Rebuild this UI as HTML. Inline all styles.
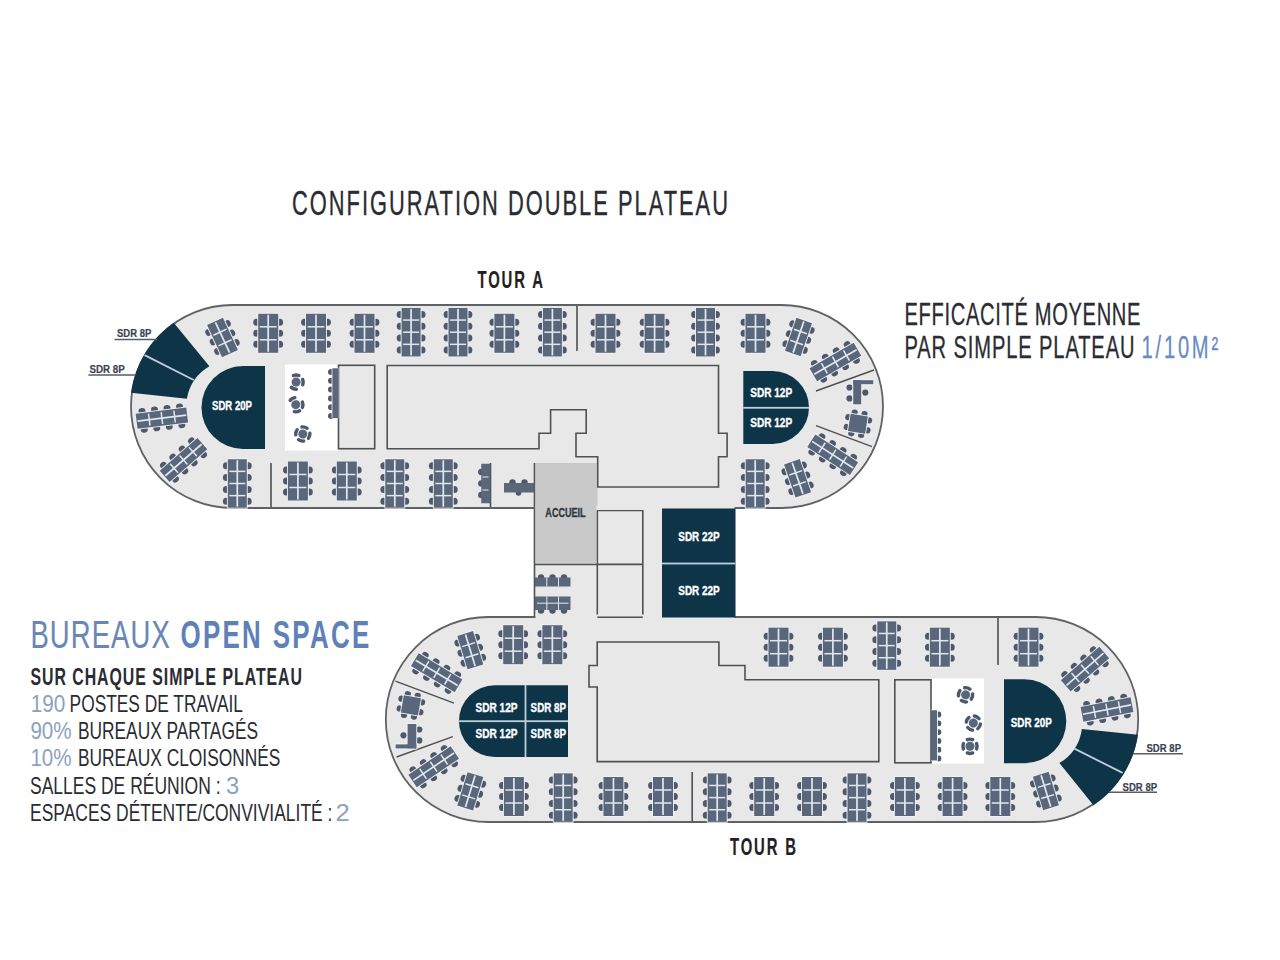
<!DOCTYPE html>
<html><head><meta charset="utf-8"><style>
html,body{margin:0;padding:0;background:#fff;width:1280px;height:960px;overflow:hidden}
svg{display:block}
text{font-family:"Liberation Sans",sans-serif}
</style></head><body>
<svg width="1280" height="960" viewBox="0 0 1280 960">
<rect width="1280" height="960" fill="#ffffff"/>
<path d="M 232.5 305 L 781.5 305 A 101.5 101.5 0 0 1 781.5 508 L 232.5 508 A 101.5 101.5 0 0 1 232.5 305 Z" fill="#e8e8e8"/>
<path d="M 488.3 617 L 1035.7 617 A 102.5 102.5 0 0 1 1035.7 822 L 488.3 822 A 102.5 102.5 0 0 1 488.3 617 Z" fill="#e8e8e8"/>
<rect x="534" y="505" width="201" height="115" fill="#e8e8e8"/>
<rect x="285" y="364.5" width="54" height="86" fill="#ffffff"/>
<rect x="931" y="678.5" width="53" height="85" fill="#ffffff"/>
<rect x="534.5" y="463" width="63" height="101.5" fill="#c9c9c9"/>
<rect x="338.5" y="365.3" width="36.2" height="83.4" fill="none" stroke="#4e5052" stroke-width="1.6"/>
<path d="M 387.2 365.5 L 718.5 365.5 L 718.5 433.2 L 727.1 433.2 L 727.1 456.8 L 718.5 456.8 L 718.5 487 L 597.7 487 L 597.7 456.8 L 576 456.8 L 576 433.2 L 586.2 433.2 L 586.2 409.7 L 550.6 409.7 L 550.6 433.2 L 539 433.2 L 539 448.7 L 387.2 448.7 Z" fill="none" stroke="#4e5052" stroke-width="1.6"/>
<path d="M 534.5 463 L 534.5 617.3 M 534.5 564.4 L 642.8 564.4 M 597.3 510.4 L 597.3 617.3 M 597.3 510.4 L 642.8 510.4 L 642.8 617.3 L 597.3 617.3" fill="none" stroke="#4e5052" stroke-width="1.6"/>
<rect x="662" y="509" width="73.3" height="108.3" fill="#0e3448"/>
<rect x="662" y="562.6" width="73.3" height="1.8" fill="#bccfdc"/>
<path d="M 597.2 642 L 718.9 642 L 718.9 665.5 L 745 665.5 L 745 679.8 L 878.8 679.8 L 878.8 761.6 L 597.2 761.6 L 597.2 687 L 589 687 L 589 665.5 L 597.2 665.5 Z" fill="none" stroke="#4e5052" stroke-width="1.6"/>
<rect x="894.8" y="679.8" width="36.2" height="83" fill="none" stroke="#4e5052" stroke-width="1.6"/>
<path d="M 577 305 L 577 351 M 271 463 L 271 508 M 490.5 463 L 490.5 508 M 998 617 L 998 665 M 692.2 772 L 692.2 822" stroke="#4e5052" stroke-width="1.6"/>
<path d="M 816 391 L 874 370 M 816 425.6 L 872 446.7 M 395.4 681.2 L 454 703.2 M 396.6 757 L 452.8 736.7" stroke="#4e5052" stroke-width="1.4"/>
<path d="M 265 366 L 243 366 A 41.5 41.5 0 0 0 243 449 L 265 449 Z" fill="#0e3448"/>
<path d="M 743.3 371 L 772.5 371 A 36.5 36.5 0 0 1 772.5 444 L 743.3 444 Z" fill="#0e3448"/>
<rect x="743.3" y="406.9" width="66" height="1.8" fill="#bccfdc"/>
<path d="M 568 685.2 L 494.8 685.2 A 35.9 35.9 0 0 0 494.8 757 L 568 757 Z" fill="#0e3448"/>
<rect x="458" y="720.3" width="110" height="1.8" fill="#bccfdc"/>
<rect x="524.6" y="685" width="1.8" height="72" fill="#bccfdc"/>
<path d="M 1004 679.3 L 1024.3 679.3 A 42 42 0 0 1 1024.3 763.3 L 1004 763.3 Z" fill="#0e3448"/>
<path d="M 232.5 305 L 781.5 305 A 101.5 101.5 0 0 1 781.5 508 L 232.5 508 A 101.5 101.5 0 0 1 232.5 305 Z" fill="none" stroke="#5f6264" stroke-width="1.8"/>
<path d="M 488.3 617 L 1035.7 617 A 102.5 102.5 0 0 1 1035.7 822 L 488.3 822 A 102.5 102.5 0 0 1 488.3 617 Z" fill="none" stroke="#5f6264" stroke-width="1.8"/>
<rect x="535.5" y="506" width="199" height="4" fill="#e8e8e8"/>
<rect x="535.5" y="614.5" width="199" height="4" fill="#e8e8e8"/>
<path d="M 597.3 617.3 L 642.8 617.3" stroke="#4e5052" stroke-width="1.6"/>
<rect x="662" y="508.5" width="73.3" height="109" fill="#0e3448"/>
<rect x="662" y="562.6" width="73.3" height="1.8" fill="#bccfdc"/>
<rect x="535.4" y="463.8" width="61.1" height="99.8" fill="#c9c9c9"/>
<path d="M 173.72 322.65 A 102.4 102.4 0 0 0 131.02 392.8 L 186.9 398.75 A 47 47 0 0 1 209.4 366.25 Z" fill="#0e3448"/>
<path d="M 144.6 355.1 L 193.75 380" stroke="#bccfdc" stroke-width="1.8"/>
<path d="M 1137.97 734.76 A 103.4 103.4 0 0 1 1093.45 805.27 L 1059.4 763.1 A 48 48 0 0 0 1081.9 728.9 Z" fill="#0e3448"/>
<path d="M 1074.4 748.6 L 1122.6 772.9" stroke="#bccfdc" stroke-width="1.8"/>
<g transform="translate(268.2 333.3) rotate(0)"><ellipse cx="-11.7" cy="-11" rx="3.2" ry="3.5" fill="#4d596b"/><ellipse cx="11.7" cy="-11" rx="3.2" ry="3.5" fill="#4d596b"/><ellipse cx="-11.7" cy="0" rx="3.2" ry="3.5" fill="#4d596b"/><ellipse cx="11.7" cy="0" rx="3.2" ry="3.5" fill="#4d596b"/><ellipse cx="-11.7" cy="11" rx="3.2" ry="3.5" fill="#4d596b"/><ellipse cx="11.7" cy="11" rx="3.2" ry="3.5" fill="#4d596b"/><rect x="-10.9" y="-20.4" width="21.8" height="40.8" fill="#eef1f6"/><rect x="-10" y="-19.5" width="20" height="39" fill="#5a677b"/><rect x="-0.85" y="-18.5" width="1.7" height="37" fill="#dfe8f1"/><rect x="-8.5" y="-7.25" width="17" height="1.5" fill="#dfe8f1"/><rect x="-8.5" y="5.75" width="17" height="1.5" fill="#dfe8f1"/></g>
<g transform="translate(316 333.3) rotate(0)"><ellipse cx="-11.7" cy="-11" rx="3.2" ry="3.5" fill="#4d596b"/><ellipse cx="11.7" cy="-11" rx="3.2" ry="3.5" fill="#4d596b"/><ellipse cx="-11.7" cy="0" rx="3.2" ry="3.5" fill="#4d596b"/><ellipse cx="11.7" cy="0" rx="3.2" ry="3.5" fill="#4d596b"/><ellipse cx="-11.7" cy="11" rx="3.2" ry="3.5" fill="#4d596b"/><ellipse cx="11.7" cy="11" rx="3.2" ry="3.5" fill="#4d596b"/><rect x="-10.9" y="-20.4" width="21.8" height="40.8" fill="#eef1f6"/><rect x="-10" y="-19.5" width="20" height="39" fill="#5a677b"/><rect x="-0.85" y="-18.5" width="1.7" height="37" fill="#dfe8f1"/><rect x="-8.5" y="-7.25" width="17" height="1.5" fill="#dfe8f1"/><rect x="-8.5" y="5.75" width="17" height="1.5" fill="#dfe8f1"/></g>
<g transform="translate(364.5 333.3) rotate(0)"><ellipse cx="-11.7" cy="-11" rx="3.2" ry="3.5" fill="#4d596b"/><ellipse cx="11.7" cy="-11" rx="3.2" ry="3.5" fill="#4d596b"/><ellipse cx="-11.7" cy="0" rx="3.2" ry="3.5" fill="#4d596b"/><ellipse cx="11.7" cy="0" rx="3.2" ry="3.5" fill="#4d596b"/><ellipse cx="-11.7" cy="11" rx="3.2" ry="3.5" fill="#4d596b"/><ellipse cx="11.7" cy="11" rx="3.2" ry="3.5" fill="#4d596b"/><rect x="-10.9" y="-20.4" width="21.8" height="40.8" fill="#eef1f6"/><rect x="-10" y="-19.5" width="20" height="39" fill="#5a677b"/><rect x="-0.85" y="-18.5" width="1.7" height="37" fill="#dfe8f1"/><rect x="-8.5" y="-7.25" width="17" height="1.5" fill="#dfe8f1"/><rect x="-8.5" y="5.75" width="17" height="1.5" fill="#dfe8f1"/></g>
<g transform="translate(411.1 332.2) rotate(0)"><ellipse cx="-11.2" cy="-17.7" rx="3.2" ry="3.5" fill="#4d596b"/><ellipse cx="11.2" cy="-17.7" rx="3.2" ry="3.5" fill="#4d596b"/><ellipse cx="-11.2" cy="-5.9" rx="3.2" ry="3.5" fill="#4d596b"/><ellipse cx="11.2" cy="-5.9" rx="3.2" ry="3.5" fill="#4d596b"/><ellipse cx="-11.2" cy="5.9" rx="3.2" ry="3.5" fill="#4d596b"/><ellipse cx="11.2" cy="5.9" rx="3.2" ry="3.5" fill="#4d596b"/><ellipse cx="-11.2" cy="17.7" rx="3.2" ry="3.5" fill="#4d596b"/><ellipse cx="11.2" cy="17.7" rx="3.2" ry="3.5" fill="#4d596b"/><rect x="-10.4" y="-25.15" width="20.8" height="50.3" fill="#eef1f6"/><rect x="-9.5" y="-24.25" width="19" height="48.5" fill="#5a677b"/><rect x="-0.85" y="-23.25" width="1.7" height="46.5" fill="#dfe8f1"/><rect x="-8" y="-12.88" width="16" height="1.5" fill="#dfe8f1"/><rect x="-8" y="-0.75" width="16" height="1.5" fill="#dfe8f1"/><rect x="-8" y="11.38" width="16" height="1.5" fill="#dfe8f1"/></g>
<g transform="translate(458 332.2) rotate(0)"><ellipse cx="-11.2" cy="-17.7" rx="3.2" ry="3.5" fill="#4d596b"/><ellipse cx="11.2" cy="-17.7" rx="3.2" ry="3.5" fill="#4d596b"/><ellipse cx="-11.2" cy="-5.9" rx="3.2" ry="3.5" fill="#4d596b"/><ellipse cx="11.2" cy="-5.9" rx="3.2" ry="3.5" fill="#4d596b"/><ellipse cx="-11.2" cy="5.9" rx="3.2" ry="3.5" fill="#4d596b"/><ellipse cx="11.2" cy="5.9" rx="3.2" ry="3.5" fill="#4d596b"/><ellipse cx="-11.2" cy="17.7" rx="3.2" ry="3.5" fill="#4d596b"/><ellipse cx="11.2" cy="17.7" rx="3.2" ry="3.5" fill="#4d596b"/><rect x="-10.4" y="-25.15" width="20.8" height="50.3" fill="#eef1f6"/><rect x="-9.5" y="-24.25" width="19" height="48.5" fill="#5a677b"/><rect x="-0.85" y="-23.25" width="1.7" height="46.5" fill="#dfe8f1"/><rect x="-8" y="-12.88" width="16" height="1.5" fill="#dfe8f1"/><rect x="-8" y="-0.75" width="16" height="1.5" fill="#dfe8f1"/><rect x="-8" y="11.38" width="16" height="1.5" fill="#dfe8f1"/></g>
<g transform="translate(504.4 333.3) rotate(0)"><ellipse cx="-11.7" cy="-11" rx="3.2" ry="3.5" fill="#4d596b"/><ellipse cx="11.7" cy="-11" rx="3.2" ry="3.5" fill="#4d596b"/><ellipse cx="-11.7" cy="0" rx="3.2" ry="3.5" fill="#4d596b"/><ellipse cx="11.7" cy="0" rx="3.2" ry="3.5" fill="#4d596b"/><ellipse cx="-11.7" cy="11" rx="3.2" ry="3.5" fill="#4d596b"/><ellipse cx="11.7" cy="11" rx="3.2" ry="3.5" fill="#4d596b"/><rect x="-10.9" y="-20.4" width="21.8" height="40.8" fill="#eef1f6"/><rect x="-10" y="-19.5" width="20" height="39" fill="#5a677b"/><rect x="-0.85" y="-18.5" width="1.7" height="37" fill="#dfe8f1"/><rect x="-8.5" y="-7.25" width="17" height="1.5" fill="#dfe8f1"/><rect x="-8.5" y="5.75" width="17" height="1.5" fill="#dfe8f1"/></g>
<g transform="translate(552.4 332.2) rotate(0)"><ellipse cx="-11.2" cy="-17.7" rx="3.2" ry="3.5" fill="#4d596b"/><ellipse cx="11.2" cy="-17.7" rx="3.2" ry="3.5" fill="#4d596b"/><ellipse cx="-11.2" cy="-5.9" rx="3.2" ry="3.5" fill="#4d596b"/><ellipse cx="11.2" cy="-5.9" rx="3.2" ry="3.5" fill="#4d596b"/><ellipse cx="-11.2" cy="5.9" rx="3.2" ry="3.5" fill="#4d596b"/><ellipse cx="11.2" cy="5.9" rx="3.2" ry="3.5" fill="#4d596b"/><ellipse cx="-11.2" cy="17.7" rx="3.2" ry="3.5" fill="#4d596b"/><ellipse cx="11.2" cy="17.7" rx="3.2" ry="3.5" fill="#4d596b"/><rect x="-10.4" y="-25.15" width="20.8" height="50.3" fill="#eef1f6"/><rect x="-9.5" y="-24.25" width="19" height="48.5" fill="#5a677b"/><rect x="-0.85" y="-23.25" width="1.7" height="46.5" fill="#dfe8f1"/><rect x="-8" y="-12.88" width="16" height="1.5" fill="#dfe8f1"/><rect x="-8" y="-0.75" width="16" height="1.5" fill="#dfe8f1"/><rect x="-8" y="11.38" width="16" height="1.5" fill="#dfe8f1"/></g>
<g transform="translate(605.5 333.3) rotate(0)"><ellipse cx="-11.7" cy="-11" rx="3.2" ry="3.5" fill="#4d596b"/><ellipse cx="11.7" cy="-11" rx="3.2" ry="3.5" fill="#4d596b"/><ellipse cx="-11.7" cy="0" rx="3.2" ry="3.5" fill="#4d596b"/><ellipse cx="11.7" cy="0" rx="3.2" ry="3.5" fill="#4d596b"/><ellipse cx="-11.7" cy="11" rx="3.2" ry="3.5" fill="#4d596b"/><ellipse cx="11.7" cy="11" rx="3.2" ry="3.5" fill="#4d596b"/><rect x="-10.9" y="-20.4" width="21.8" height="40.8" fill="#eef1f6"/><rect x="-10" y="-19.5" width="20" height="39" fill="#5a677b"/><rect x="-0.85" y="-18.5" width="1.7" height="37" fill="#dfe8f1"/><rect x="-8.5" y="-7.25" width="17" height="1.5" fill="#dfe8f1"/><rect x="-8.5" y="5.75" width="17" height="1.5" fill="#dfe8f1"/></g>
<g transform="translate(654.6 333.3) rotate(0)"><ellipse cx="-11.7" cy="-11" rx="3.2" ry="3.5" fill="#4d596b"/><ellipse cx="11.7" cy="-11" rx="3.2" ry="3.5" fill="#4d596b"/><ellipse cx="-11.7" cy="0" rx="3.2" ry="3.5" fill="#4d596b"/><ellipse cx="11.7" cy="0" rx="3.2" ry="3.5" fill="#4d596b"/><ellipse cx="-11.7" cy="11" rx="3.2" ry="3.5" fill="#4d596b"/><ellipse cx="11.7" cy="11" rx="3.2" ry="3.5" fill="#4d596b"/><rect x="-10.9" y="-20.4" width="21.8" height="40.8" fill="#eef1f6"/><rect x="-10" y="-19.5" width="20" height="39" fill="#5a677b"/><rect x="-0.85" y="-18.5" width="1.7" height="37" fill="#dfe8f1"/><rect x="-8.5" y="-7.25" width="17" height="1.5" fill="#dfe8f1"/><rect x="-8.5" y="5.75" width="17" height="1.5" fill="#dfe8f1"/></g>
<g transform="translate(705.5 332.2) rotate(0)"><ellipse cx="-11.2" cy="-17.7" rx="3.2" ry="3.5" fill="#4d596b"/><ellipse cx="11.2" cy="-17.7" rx="3.2" ry="3.5" fill="#4d596b"/><ellipse cx="-11.2" cy="-5.9" rx="3.2" ry="3.5" fill="#4d596b"/><ellipse cx="11.2" cy="-5.9" rx="3.2" ry="3.5" fill="#4d596b"/><ellipse cx="-11.2" cy="5.9" rx="3.2" ry="3.5" fill="#4d596b"/><ellipse cx="11.2" cy="5.9" rx="3.2" ry="3.5" fill="#4d596b"/><ellipse cx="-11.2" cy="17.7" rx="3.2" ry="3.5" fill="#4d596b"/><ellipse cx="11.2" cy="17.7" rx="3.2" ry="3.5" fill="#4d596b"/><rect x="-10.4" y="-25.15" width="20.8" height="50.3" fill="#eef1f6"/><rect x="-9.5" y="-24.25" width="19" height="48.5" fill="#5a677b"/><rect x="-0.85" y="-23.25" width="1.7" height="46.5" fill="#dfe8f1"/><rect x="-8" y="-12.88" width="16" height="1.5" fill="#dfe8f1"/><rect x="-8" y="-0.75" width="16" height="1.5" fill="#dfe8f1"/><rect x="-8" y="11.38" width="16" height="1.5" fill="#dfe8f1"/></g>
<g transform="translate(755.5 333.3) rotate(0)"><ellipse cx="-11.7" cy="-11" rx="3.2" ry="3.5" fill="#4d596b"/><ellipse cx="11.7" cy="-11" rx="3.2" ry="3.5" fill="#4d596b"/><ellipse cx="-11.7" cy="0" rx="3.2" ry="3.5" fill="#4d596b"/><ellipse cx="11.7" cy="0" rx="3.2" ry="3.5" fill="#4d596b"/><ellipse cx="-11.7" cy="11" rx="3.2" ry="3.5" fill="#4d596b"/><ellipse cx="11.7" cy="11" rx="3.2" ry="3.5" fill="#4d596b"/><rect x="-10.9" y="-20.4" width="21.8" height="40.8" fill="#eef1f6"/><rect x="-10" y="-19.5" width="20" height="39" fill="#5a677b"/><rect x="-0.85" y="-18.5" width="1.7" height="37" fill="#dfe8f1"/><rect x="-8.5" y="-7.25" width="17" height="1.5" fill="#dfe8f1"/><rect x="-8.5" y="5.75" width="17" height="1.5" fill="#dfe8f1"/></g>
<g transform="translate(798.5 337) rotate(19)"><ellipse cx="-9.95" cy="-10.5" rx="3.2" ry="3.5" fill="#4d596b"/><ellipse cx="9.95" cy="-10.5" rx="3.2" ry="3.5" fill="#4d596b"/><ellipse cx="-9.95" cy="0" rx="3.2" ry="3.5" fill="#4d596b"/><ellipse cx="9.95" cy="0" rx="3.2" ry="3.5" fill="#4d596b"/><ellipse cx="-9.95" cy="10.5" rx="3.2" ry="3.5" fill="#4d596b"/><ellipse cx="9.95" cy="10.5" rx="3.2" ry="3.5" fill="#4d596b"/><rect x="-9.15" y="-18.4" width="18.3" height="36.8" fill="#eef1f6"/><rect x="-8.25" y="-17.5" width="16.5" height="35" fill="#5a677b"/><rect x="-0.85" y="-16.5" width="1.7" height="33" fill="#dfe8f1"/><rect x="-6.75" y="-6.58" width="13.5" height="1.5" fill="#dfe8f1"/><rect x="-6.75" y="5.08" width="13.5" height="1.5" fill="#dfe8f1"/></g>
<g transform="translate(835.4 361.9) rotate(60)"><ellipse cx="-9.2" cy="-18.9" rx="3.2" ry="3.5" fill="#4d596b"/><ellipse cx="9.2" cy="-18.9" rx="3.2" ry="3.5" fill="#4d596b"/><ellipse cx="-9.2" cy="-6.3" rx="3.2" ry="3.5" fill="#4d596b"/><ellipse cx="9.2" cy="-6.3" rx="3.2" ry="3.5" fill="#4d596b"/><ellipse cx="-9.2" cy="6.3" rx="3.2" ry="3.5" fill="#4d596b"/><ellipse cx="9.2" cy="6.3" rx="3.2" ry="3.5" fill="#4d596b"/><ellipse cx="-9.2" cy="18.9" rx="3.2" ry="3.5" fill="#4d596b"/><ellipse cx="9.2" cy="18.9" rx="3.2" ry="3.5" fill="#4d596b"/><rect x="-8.4" y="-26.4" width="16.8" height="52.8" fill="#eef1f6"/><rect x="-7.5" y="-25.5" width="15" height="51" fill="#5a677b"/><rect x="-0.85" y="-24.5" width="1.7" height="49" fill="#dfe8f1"/><rect x="-6" y="-13.5" width="12" height="1.5" fill="#dfe8f1"/><rect x="-6" y="-0.75" width="12" height="1.5" fill="#dfe8f1"/><rect x="-6" y="12" width="12" height="1.5" fill="#dfe8f1"/></g>
<g transform="translate(237.3 483.5) rotate(0)"><ellipse cx="-11.2" cy="-17.7" rx="3.2" ry="3.5" fill="#4d596b"/><ellipse cx="11.2" cy="-17.7" rx="3.2" ry="3.5" fill="#4d596b"/><ellipse cx="-11.2" cy="-5.9" rx="3.2" ry="3.5" fill="#4d596b"/><ellipse cx="11.2" cy="-5.9" rx="3.2" ry="3.5" fill="#4d596b"/><ellipse cx="-11.2" cy="5.9" rx="3.2" ry="3.5" fill="#4d596b"/><ellipse cx="11.2" cy="5.9" rx="3.2" ry="3.5" fill="#4d596b"/><ellipse cx="-11.2" cy="17.7" rx="3.2" ry="3.5" fill="#4d596b"/><ellipse cx="11.2" cy="17.7" rx="3.2" ry="3.5" fill="#4d596b"/><rect x="-10.4" y="-25.15" width="20.8" height="50.3" fill="#eef1f6"/><rect x="-9.5" y="-24.25" width="19" height="48.5" fill="#5a677b"/><rect x="-0.85" y="-23.25" width="1.7" height="46.5" fill="#dfe8f1"/><rect x="-8" y="-12.88" width="16" height="1.5" fill="#dfe8f1"/><rect x="-8" y="-0.75" width="16" height="1.5" fill="#dfe8f1"/><rect x="-8" y="11.38" width="16" height="1.5" fill="#dfe8f1"/></g>
<g transform="translate(297.9 481) rotate(0)"><ellipse cx="-11.7" cy="-11" rx="3.2" ry="3.5" fill="#4d596b"/><ellipse cx="11.7" cy="-11" rx="3.2" ry="3.5" fill="#4d596b"/><ellipse cx="-11.7" cy="0" rx="3.2" ry="3.5" fill="#4d596b"/><ellipse cx="11.7" cy="0" rx="3.2" ry="3.5" fill="#4d596b"/><ellipse cx="-11.7" cy="11" rx="3.2" ry="3.5" fill="#4d596b"/><ellipse cx="11.7" cy="11" rx="3.2" ry="3.5" fill="#4d596b"/><rect x="-10.9" y="-20.4" width="21.8" height="40.8" fill="#eef1f6"/><rect x="-10" y="-19.5" width="20" height="39" fill="#5a677b"/><rect x="-0.85" y="-18.5" width="1.7" height="37" fill="#dfe8f1"/><rect x="-8.5" y="-7.25" width="17" height="1.5" fill="#dfe8f1"/><rect x="-8.5" y="5.75" width="17" height="1.5" fill="#dfe8f1"/></g>
<g transform="translate(346.8 481) rotate(0)"><ellipse cx="-11.7" cy="-11" rx="3.2" ry="3.5" fill="#4d596b"/><ellipse cx="11.7" cy="-11" rx="3.2" ry="3.5" fill="#4d596b"/><ellipse cx="-11.7" cy="0" rx="3.2" ry="3.5" fill="#4d596b"/><ellipse cx="11.7" cy="0" rx="3.2" ry="3.5" fill="#4d596b"/><ellipse cx="-11.7" cy="11" rx="3.2" ry="3.5" fill="#4d596b"/><ellipse cx="11.7" cy="11" rx="3.2" ry="3.5" fill="#4d596b"/><rect x="-10.9" y="-20.4" width="21.8" height="40.8" fill="#eef1f6"/><rect x="-10" y="-19.5" width="20" height="39" fill="#5a677b"/><rect x="-0.85" y="-18.5" width="1.7" height="37" fill="#dfe8f1"/><rect x="-8.5" y="-7.25" width="17" height="1.5" fill="#dfe8f1"/><rect x="-8.5" y="5.75" width="17" height="1.5" fill="#dfe8f1"/></g>
<g transform="translate(394.8 483.5) rotate(0)"><ellipse cx="-11.2" cy="-17.7" rx="3.2" ry="3.5" fill="#4d596b"/><ellipse cx="11.2" cy="-17.7" rx="3.2" ry="3.5" fill="#4d596b"/><ellipse cx="-11.2" cy="-5.9" rx="3.2" ry="3.5" fill="#4d596b"/><ellipse cx="11.2" cy="-5.9" rx="3.2" ry="3.5" fill="#4d596b"/><ellipse cx="-11.2" cy="5.9" rx="3.2" ry="3.5" fill="#4d596b"/><ellipse cx="11.2" cy="5.9" rx="3.2" ry="3.5" fill="#4d596b"/><ellipse cx="-11.2" cy="17.7" rx="3.2" ry="3.5" fill="#4d596b"/><ellipse cx="11.2" cy="17.7" rx="3.2" ry="3.5" fill="#4d596b"/><rect x="-10.4" y="-25.15" width="20.8" height="50.3" fill="#eef1f6"/><rect x="-9.5" y="-24.25" width="19" height="48.5" fill="#5a677b"/><rect x="-0.85" y="-23.25" width="1.7" height="46.5" fill="#dfe8f1"/><rect x="-8" y="-12.88" width="16" height="1.5" fill="#dfe8f1"/><rect x="-8" y="-0.75" width="16" height="1.5" fill="#dfe8f1"/><rect x="-8" y="11.38" width="16" height="1.5" fill="#dfe8f1"/></g>
<g transform="translate(443.3 483.5) rotate(0)"><ellipse cx="-11.2" cy="-17.7" rx="3.2" ry="3.5" fill="#4d596b"/><ellipse cx="11.2" cy="-17.7" rx="3.2" ry="3.5" fill="#4d596b"/><ellipse cx="-11.2" cy="-5.9" rx="3.2" ry="3.5" fill="#4d596b"/><ellipse cx="11.2" cy="-5.9" rx="3.2" ry="3.5" fill="#4d596b"/><ellipse cx="-11.2" cy="5.9" rx="3.2" ry="3.5" fill="#4d596b"/><ellipse cx="11.2" cy="5.9" rx="3.2" ry="3.5" fill="#4d596b"/><ellipse cx="-11.2" cy="17.7" rx="3.2" ry="3.5" fill="#4d596b"/><ellipse cx="11.2" cy="17.7" rx="3.2" ry="3.5" fill="#4d596b"/><rect x="-10.4" y="-25.15" width="20.8" height="50.3" fill="#eef1f6"/><rect x="-9.5" y="-24.25" width="19" height="48.5" fill="#5a677b"/><rect x="-0.85" y="-23.25" width="1.7" height="46.5" fill="#dfe8f1"/><rect x="-8" y="-12.88" width="16" height="1.5" fill="#dfe8f1"/><rect x="-8" y="-0.75" width="16" height="1.5" fill="#dfe8f1"/><rect x="-8" y="11.38" width="16" height="1.5" fill="#dfe8f1"/></g>
<g transform="translate(755.2 483.5) rotate(0)"><ellipse cx="-11.2" cy="-17.7" rx="3.2" ry="3.5" fill="#4d596b"/><ellipse cx="11.2" cy="-17.7" rx="3.2" ry="3.5" fill="#4d596b"/><ellipse cx="-11.2" cy="-5.9" rx="3.2" ry="3.5" fill="#4d596b"/><ellipse cx="11.2" cy="-5.9" rx="3.2" ry="3.5" fill="#4d596b"/><ellipse cx="-11.2" cy="5.9" rx="3.2" ry="3.5" fill="#4d596b"/><ellipse cx="11.2" cy="5.9" rx="3.2" ry="3.5" fill="#4d596b"/><ellipse cx="-11.2" cy="17.7" rx="3.2" ry="3.5" fill="#4d596b"/><ellipse cx="11.2" cy="17.7" rx="3.2" ry="3.5" fill="#4d596b"/><rect x="-10.4" y="-25.15" width="20.8" height="50.3" fill="#eef1f6"/><rect x="-9.5" y="-24.25" width="19" height="48.5" fill="#5a677b"/><rect x="-0.85" y="-23.25" width="1.7" height="46.5" fill="#dfe8f1"/><rect x="-8" y="-12.88" width="16" height="1.5" fill="#dfe8f1"/><rect x="-8" y="-0.75" width="16" height="1.5" fill="#dfe8f1"/><rect x="-8" y="11.38" width="16" height="1.5" fill="#dfe8f1"/></g>
<g transform="translate(797.6 478.3) rotate(-19)"><ellipse cx="-9.95" cy="-10.5" rx="3.2" ry="3.5" fill="#4d596b"/><ellipse cx="9.95" cy="-10.5" rx="3.2" ry="3.5" fill="#4d596b"/><ellipse cx="-9.95" cy="0" rx="3.2" ry="3.5" fill="#4d596b"/><ellipse cx="9.95" cy="0" rx="3.2" ry="3.5" fill="#4d596b"/><ellipse cx="-9.95" cy="10.5" rx="3.2" ry="3.5" fill="#4d596b"/><ellipse cx="9.95" cy="10.5" rx="3.2" ry="3.5" fill="#4d596b"/><rect x="-9.15" y="-18.4" width="18.3" height="36.8" fill="#eef1f6"/><rect x="-8.25" y="-17.5" width="16.5" height="35" fill="#5a677b"/><rect x="-0.85" y="-16.5" width="1.7" height="33" fill="#dfe8f1"/><rect x="-6.75" y="-6.58" width="13.5" height="1.5" fill="#dfe8f1"/><rect x="-6.75" y="5.08" width="13.5" height="1.5" fill="#dfe8f1"/></g>
<g transform="translate(832.7 454.7) rotate(-57)"><ellipse cx="-9.2" cy="-18.9" rx="3.2" ry="3.5" fill="#4d596b"/><ellipse cx="9.2" cy="-18.9" rx="3.2" ry="3.5" fill="#4d596b"/><ellipse cx="-9.2" cy="-6.3" rx="3.2" ry="3.5" fill="#4d596b"/><ellipse cx="9.2" cy="-6.3" rx="3.2" ry="3.5" fill="#4d596b"/><ellipse cx="-9.2" cy="6.3" rx="3.2" ry="3.5" fill="#4d596b"/><ellipse cx="9.2" cy="6.3" rx="3.2" ry="3.5" fill="#4d596b"/><ellipse cx="-9.2" cy="18.9" rx="3.2" ry="3.5" fill="#4d596b"/><ellipse cx="9.2" cy="18.9" rx="3.2" ry="3.5" fill="#4d596b"/><rect x="-8.4" y="-26.4" width="16.8" height="52.8" fill="#eef1f6"/><rect x="-7.5" y="-25.5" width="15" height="51" fill="#5a677b"/><rect x="-0.85" y="-24.5" width="1.7" height="49" fill="#dfe8f1"/><rect x="-6" y="-13.5" width="12" height="1.5" fill="#dfe8f1"/><rect x="-6" y="-0.75" width="12" height="1.5" fill="#dfe8f1"/><rect x="-6" y="12" width="12" height="1.5" fill="#dfe8f1"/></g>
<g transform="translate(222.5 337.5) rotate(-25)"><ellipse cx="-10.45" cy="-10.5" rx="3.2" ry="3.5" fill="#4d596b"/><ellipse cx="10.45" cy="-10.5" rx="3.2" ry="3.5" fill="#4d596b"/><ellipse cx="-10.45" cy="0" rx="3.2" ry="3.5" fill="#4d596b"/><ellipse cx="10.45" cy="0" rx="3.2" ry="3.5" fill="#4d596b"/><ellipse cx="-10.45" cy="10.5" rx="3.2" ry="3.5" fill="#4d596b"/><ellipse cx="10.45" cy="10.5" rx="3.2" ry="3.5" fill="#4d596b"/><rect x="-9.65" y="-18.65" width="19.3" height="37.3" fill="#eef1f6"/><rect x="-8.75" y="-17.75" width="17.5" height="35.5" fill="#5a677b"/><rect x="-0.85" y="-16.75" width="1.7" height="33.5" fill="#dfe8f1"/><rect x="-7.25" y="-6.67" width="14.5" height="1.5" fill="#dfe8f1"/><rect x="-7.25" y="5.17" width="14.5" height="1.5" fill="#dfe8f1"/></g>
<g transform="translate(161.9 418.1) rotate(83)"><ellipse cx="-9.2" cy="-18.9" rx="3.2" ry="3.5" fill="#4d596b"/><ellipse cx="9.2" cy="-18.9" rx="3.2" ry="3.5" fill="#4d596b"/><ellipse cx="-9.2" cy="-6.3" rx="3.2" ry="3.5" fill="#4d596b"/><ellipse cx="9.2" cy="-6.3" rx="3.2" ry="3.5" fill="#4d596b"/><ellipse cx="-9.2" cy="6.3" rx="3.2" ry="3.5" fill="#4d596b"/><ellipse cx="9.2" cy="6.3" rx="3.2" ry="3.5" fill="#4d596b"/><ellipse cx="-9.2" cy="18.9" rx="3.2" ry="3.5" fill="#4d596b"/><ellipse cx="9.2" cy="18.9" rx="3.2" ry="3.5" fill="#4d596b"/><rect x="-8.4" y="-26.4" width="16.8" height="52.8" fill="#eef1f6"/><rect x="-7.5" y="-25.5" width="15" height="51" fill="#5a677b"/><rect x="-0.85" y="-24.5" width="1.7" height="49" fill="#dfe8f1"/><rect x="-6" y="-13.5" width="12" height="1.5" fill="#dfe8f1"/><rect x="-6" y="-0.75" width="12" height="1.5" fill="#dfe8f1"/><rect x="-6" y="12" width="12" height="1.5" fill="#dfe8f1"/></g>
<g transform="translate(183.5 460) rotate(49)"><ellipse cx="-9.2" cy="-18.6" rx="3.2" ry="3.5" fill="#4d596b"/><ellipse cx="9.2" cy="-18.6" rx="3.2" ry="3.5" fill="#4d596b"/><ellipse cx="-9.2" cy="-6.2" rx="3.2" ry="3.5" fill="#4d596b"/><ellipse cx="9.2" cy="-6.2" rx="3.2" ry="3.5" fill="#4d596b"/><ellipse cx="-9.2" cy="6.2" rx="3.2" ry="3.5" fill="#4d596b"/><ellipse cx="9.2" cy="6.2" rx="3.2" ry="3.5" fill="#4d596b"/><ellipse cx="-9.2" cy="18.6" rx="3.2" ry="3.5" fill="#4d596b"/><ellipse cx="9.2" cy="18.6" rx="3.2" ry="3.5" fill="#4d596b"/><rect x="-8.4" y="-25.9" width="16.8" height="51.8" fill="#eef1f6"/><rect x="-7.5" y="-25" width="15" height="50" fill="#5a677b"/><rect x="-0.85" y="-24" width="1.7" height="48" fill="#dfe8f1"/><rect x="-6" y="-13.25" width="12" height="1.5" fill="#dfe8f1"/><rect x="-6" y="-0.75" width="12" height="1.5" fill="#dfe8f1"/><rect x="-6" y="11.75" width="12" height="1.5" fill="#dfe8f1"/></g>
<g transform="translate(513.2 644.7) rotate(0)"><ellipse cx="-11.7" cy="-11" rx="3.2" ry="3.5" fill="#4d596b"/><ellipse cx="11.7" cy="-11" rx="3.2" ry="3.5" fill="#4d596b"/><ellipse cx="-11.7" cy="0" rx="3.2" ry="3.5" fill="#4d596b"/><ellipse cx="11.7" cy="0" rx="3.2" ry="3.5" fill="#4d596b"/><ellipse cx="-11.7" cy="11" rx="3.2" ry="3.5" fill="#4d596b"/><ellipse cx="11.7" cy="11" rx="3.2" ry="3.5" fill="#4d596b"/><rect x="-10.9" y="-20.4" width="21.8" height="40.8" fill="#eef1f6"/><rect x="-10" y="-19.5" width="20" height="39" fill="#5a677b"/><rect x="-0.85" y="-18.5" width="1.7" height="37" fill="#dfe8f1"/><rect x="-8.5" y="-7.25" width="17" height="1.5" fill="#dfe8f1"/><rect x="-8.5" y="5.75" width="17" height="1.5" fill="#dfe8f1"/></g>
<g transform="translate(552.35 644.7) rotate(0)"><ellipse cx="-11.7" cy="-11" rx="3.2" ry="3.5" fill="#4d596b"/><ellipse cx="11.7" cy="-11" rx="3.2" ry="3.5" fill="#4d596b"/><ellipse cx="-11.7" cy="0" rx="3.2" ry="3.5" fill="#4d596b"/><ellipse cx="11.7" cy="0" rx="3.2" ry="3.5" fill="#4d596b"/><ellipse cx="-11.7" cy="11" rx="3.2" ry="3.5" fill="#4d596b"/><ellipse cx="11.7" cy="11" rx="3.2" ry="3.5" fill="#4d596b"/><rect x="-10.9" y="-20.4" width="21.8" height="40.8" fill="#eef1f6"/><rect x="-10" y="-19.5" width="20" height="39" fill="#5a677b"/><rect x="-0.85" y="-18.5" width="1.7" height="37" fill="#dfe8f1"/><rect x="-8.5" y="-7.25" width="17" height="1.5" fill="#dfe8f1"/><rect x="-8.5" y="5.75" width="17" height="1.5" fill="#dfe8f1"/></g>
<g transform="translate(778.5 647.2) rotate(0)"><ellipse cx="-11.7" cy="-11" rx="3.2" ry="3.5" fill="#4d596b"/><ellipse cx="11.7" cy="-11" rx="3.2" ry="3.5" fill="#4d596b"/><ellipse cx="-11.7" cy="0" rx="3.2" ry="3.5" fill="#4d596b"/><ellipse cx="11.7" cy="0" rx="3.2" ry="3.5" fill="#4d596b"/><ellipse cx="-11.7" cy="11" rx="3.2" ry="3.5" fill="#4d596b"/><ellipse cx="11.7" cy="11" rx="3.2" ry="3.5" fill="#4d596b"/><rect x="-10.9" y="-20.4" width="21.8" height="40.8" fill="#eef1f6"/><rect x="-10" y="-19.5" width="20" height="39" fill="#5a677b"/><rect x="-0.85" y="-18.5" width="1.7" height="37" fill="#dfe8f1"/><rect x="-8.5" y="-7.25" width="17" height="1.5" fill="#dfe8f1"/><rect x="-8.5" y="5.75" width="17" height="1.5" fill="#dfe8f1"/></g>
<g transform="translate(832.9 647.2) rotate(0)"><ellipse cx="-11.7" cy="-11" rx="3.2" ry="3.5" fill="#4d596b"/><ellipse cx="11.7" cy="-11" rx="3.2" ry="3.5" fill="#4d596b"/><ellipse cx="-11.7" cy="0" rx="3.2" ry="3.5" fill="#4d596b"/><ellipse cx="11.7" cy="0" rx="3.2" ry="3.5" fill="#4d596b"/><ellipse cx="-11.7" cy="11" rx="3.2" ry="3.5" fill="#4d596b"/><ellipse cx="11.7" cy="11" rx="3.2" ry="3.5" fill="#4d596b"/><rect x="-10.9" y="-20.4" width="21.8" height="40.8" fill="#eef1f6"/><rect x="-10" y="-19.5" width="20" height="39" fill="#5a677b"/><rect x="-0.85" y="-18.5" width="1.7" height="37" fill="#dfe8f1"/><rect x="-8.5" y="-7.25" width="17" height="1.5" fill="#dfe8f1"/><rect x="-8.5" y="5.75" width="17" height="1.5" fill="#dfe8f1"/></g>
<g transform="translate(886.75 645.6) rotate(0)"><ellipse cx="-11.2" cy="-17.7" rx="3.2" ry="3.5" fill="#4d596b"/><ellipse cx="11.2" cy="-17.7" rx="3.2" ry="3.5" fill="#4d596b"/><ellipse cx="-11.2" cy="-5.9" rx="3.2" ry="3.5" fill="#4d596b"/><ellipse cx="11.2" cy="-5.9" rx="3.2" ry="3.5" fill="#4d596b"/><ellipse cx="-11.2" cy="5.9" rx="3.2" ry="3.5" fill="#4d596b"/><ellipse cx="11.2" cy="5.9" rx="3.2" ry="3.5" fill="#4d596b"/><ellipse cx="-11.2" cy="17.7" rx="3.2" ry="3.5" fill="#4d596b"/><ellipse cx="11.2" cy="17.7" rx="3.2" ry="3.5" fill="#4d596b"/><rect x="-10.4" y="-25.15" width="20.8" height="50.3" fill="#eef1f6"/><rect x="-9.5" y="-24.25" width="19" height="48.5" fill="#5a677b"/><rect x="-0.85" y="-23.25" width="1.7" height="46.5" fill="#dfe8f1"/><rect x="-8" y="-12.88" width="16" height="1.5" fill="#dfe8f1"/><rect x="-8" y="-0.75" width="16" height="1.5" fill="#dfe8f1"/><rect x="-8" y="11.38" width="16" height="1.5" fill="#dfe8f1"/></g>
<g transform="translate(939.85 647.2) rotate(0)"><ellipse cx="-11.7" cy="-11" rx="3.2" ry="3.5" fill="#4d596b"/><ellipse cx="11.7" cy="-11" rx="3.2" ry="3.5" fill="#4d596b"/><ellipse cx="-11.7" cy="0" rx="3.2" ry="3.5" fill="#4d596b"/><ellipse cx="11.7" cy="0" rx="3.2" ry="3.5" fill="#4d596b"/><ellipse cx="-11.7" cy="11" rx="3.2" ry="3.5" fill="#4d596b"/><ellipse cx="11.7" cy="11" rx="3.2" ry="3.5" fill="#4d596b"/><rect x="-10.9" y="-20.4" width="21.8" height="40.8" fill="#eef1f6"/><rect x="-10" y="-19.5" width="20" height="39" fill="#5a677b"/><rect x="-0.85" y="-18.5" width="1.7" height="37" fill="#dfe8f1"/><rect x="-8.5" y="-7.25" width="17" height="1.5" fill="#dfe8f1"/><rect x="-8.5" y="5.75" width="17" height="1.5" fill="#dfe8f1"/></g>
<g transform="translate(1028.5 647.2) rotate(0)"><ellipse cx="-11.7" cy="-11" rx="3.2" ry="3.5" fill="#4d596b"/><ellipse cx="11.7" cy="-11" rx="3.2" ry="3.5" fill="#4d596b"/><ellipse cx="-11.7" cy="0" rx="3.2" ry="3.5" fill="#4d596b"/><ellipse cx="11.7" cy="0" rx="3.2" ry="3.5" fill="#4d596b"/><ellipse cx="-11.7" cy="11" rx="3.2" ry="3.5" fill="#4d596b"/><ellipse cx="11.7" cy="11" rx="3.2" ry="3.5" fill="#4d596b"/><rect x="-10.9" y="-20.4" width="21.8" height="40.8" fill="#eef1f6"/><rect x="-10" y="-19.5" width="20" height="39" fill="#5a677b"/><rect x="-0.85" y="-18.5" width="1.7" height="37" fill="#dfe8f1"/><rect x="-8.5" y="-7.25" width="17" height="1.5" fill="#dfe8f1"/><rect x="-8.5" y="5.75" width="17" height="1.5" fill="#dfe8f1"/></g>
<g transform="translate(470.3 650.2) rotate(-17)"><ellipse cx="-9.95" cy="-10.5" rx="3.2" ry="3.5" fill="#4d596b"/><ellipse cx="9.95" cy="-10.5" rx="3.2" ry="3.5" fill="#4d596b"/><ellipse cx="-9.95" cy="0" rx="3.2" ry="3.5" fill="#4d596b"/><ellipse cx="9.95" cy="0" rx="3.2" ry="3.5" fill="#4d596b"/><ellipse cx="-9.95" cy="10.5" rx="3.2" ry="3.5" fill="#4d596b"/><ellipse cx="9.95" cy="10.5" rx="3.2" ry="3.5" fill="#4d596b"/><rect x="-9.15" y="-18.4" width="18.3" height="36.8" fill="#eef1f6"/><rect x="-8.25" y="-17.5" width="16.5" height="35" fill="#5a677b"/><rect x="-0.85" y="-16.5" width="1.7" height="33" fill="#dfe8f1"/><rect x="-6.75" y="-6.58" width="13.5" height="1.5" fill="#dfe8f1"/><rect x="-6.75" y="5.08" width="13.5" height="1.5" fill="#dfe8f1"/></g>
<g transform="translate(436.7 672.8) rotate(-59)"><ellipse cx="-9.2" cy="-18.9" rx="3.2" ry="3.5" fill="#4d596b"/><ellipse cx="9.2" cy="-18.9" rx="3.2" ry="3.5" fill="#4d596b"/><ellipse cx="-9.2" cy="-6.3" rx="3.2" ry="3.5" fill="#4d596b"/><ellipse cx="9.2" cy="-6.3" rx="3.2" ry="3.5" fill="#4d596b"/><ellipse cx="-9.2" cy="6.3" rx="3.2" ry="3.5" fill="#4d596b"/><ellipse cx="9.2" cy="6.3" rx="3.2" ry="3.5" fill="#4d596b"/><ellipse cx="-9.2" cy="18.9" rx="3.2" ry="3.5" fill="#4d596b"/><ellipse cx="9.2" cy="18.9" rx="3.2" ry="3.5" fill="#4d596b"/><rect x="-8.4" y="-26.4" width="16.8" height="52.8" fill="#eef1f6"/><rect x="-7.5" y="-25.5" width="15" height="51" fill="#5a677b"/><rect x="-0.85" y="-24.5" width="1.7" height="49" fill="#dfe8f1"/><rect x="-6" y="-13.5" width="12" height="1.5" fill="#dfe8f1"/><rect x="-6" y="-0.75" width="12" height="1.5" fill="#dfe8f1"/><rect x="-6" y="12" width="12" height="1.5" fill="#dfe8f1"/></g>
<g transform="translate(1085 669.2) rotate(49)"><ellipse cx="-9.2" cy="-18.9" rx="3.2" ry="3.5" fill="#4d596b"/><ellipse cx="9.2" cy="-18.9" rx="3.2" ry="3.5" fill="#4d596b"/><ellipse cx="-9.2" cy="-6.3" rx="3.2" ry="3.5" fill="#4d596b"/><ellipse cx="9.2" cy="-6.3" rx="3.2" ry="3.5" fill="#4d596b"/><ellipse cx="-9.2" cy="6.3" rx="3.2" ry="3.5" fill="#4d596b"/><ellipse cx="9.2" cy="6.3" rx="3.2" ry="3.5" fill="#4d596b"/><ellipse cx="-9.2" cy="18.9" rx="3.2" ry="3.5" fill="#4d596b"/><ellipse cx="9.2" cy="18.9" rx="3.2" ry="3.5" fill="#4d596b"/><rect x="-8.4" y="-26.4" width="16.8" height="52.8" fill="#eef1f6"/><rect x="-7.5" y="-25.5" width="15" height="51" fill="#5a677b"/><rect x="-0.85" y="-24.5" width="1.7" height="49" fill="#dfe8f1"/><rect x="-6" y="-13.5" width="12" height="1.5" fill="#dfe8f1"/><rect x="-6" y="-0.75" width="12" height="1.5" fill="#dfe8f1"/><rect x="-6" y="12" width="12" height="1.5" fill="#dfe8f1"/></g>
<g transform="translate(1107 709.6) rotate(79)"><ellipse cx="-9.2" cy="-18.9" rx="3.2" ry="3.5" fill="#4d596b"/><ellipse cx="9.2" cy="-18.9" rx="3.2" ry="3.5" fill="#4d596b"/><ellipse cx="-9.2" cy="-6.3" rx="3.2" ry="3.5" fill="#4d596b"/><ellipse cx="9.2" cy="-6.3" rx="3.2" ry="3.5" fill="#4d596b"/><ellipse cx="-9.2" cy="6.3" rx="3.2" ry="3.5" fill="#4d596b"/><ellipse cx="9.2" cy="6.3" rx="3.2" ry="3.5" fill="#4d596b"/><ellipse cx="-9.2" cy="18.9" rx="3.2" ry="3.5" fill="#4d596b"/><ellipse cx="9.2" cy="18.9" rx="3.2" ry="3.5" fill="#4d596b"/><rect x="-8.4" y="-26.4" width="16.8" height="52.8" fill="#eef1f6"/><rect x="-7.5" y="-25.5" width="15" height="51" fill="#5a677b"/><rect x="-0.85" y="-24.5" width="1.7" height="49" fill="#dfe8f1"/><rect x="-6" y="-13.5" width="12" height="1.5" fill="#dfe8f1"/><rect x="-6" y="-0.75" width="12" height="1.5" fill="#dfe8f1"/><rect x="-6" y="12" width="12" height="1.5" fill="#dfe8f1"/></g>
<g transform="translate(513.9 796.5) rotate(0)"><ellipse cx="-11.7" cy="-11" rx="3.2" ry="3.5" fill="#4d596b"/><ellipse cx="11.7" cy="-11" rx="3.2" ry="3.5" fill="#4d596b"/><ellipse cx="-11.7" cy="0" rx="3.2" ry="3.5" fill="#4d596b"/><ellipse cx="11.7" cy="0" rx="3.2" ry="3.5" fill="#4d596b"/><ellipse cx="-11.7" cy="11" rx="3.2" ry="3.5" fill="#4d596b"/><ellipse cx="11.7" cy="11" rx="3.2" ry="3.5" fill="#4d596b"/><rect x="-10.9" y="-20.4" width="21.8" height="40.8" fill="#eef1f6"/><rect x="-10" y="-19.5" width="20" height="39" fill="#5a677b"/><rect x="-0.85" y="-18.5" width="1.7" height="37" fill="#dfe8f1"/><rect x="-8.5" y="-7.25" width="17" height="1.5" fill="#dfe8f1"/><rect x="-8.5" y="5.75" width="17" height="1.5" fill="#dfe8f1"/></g>
<g transform="translate(563.2 797.6) rotate(0)"><ellipse cx="-11.2" cy="-17.7" rx="3.2" ry="3.5" fill="#4d596b"/><ellipse cx="11.2" cy="-17.7" rx="3.2" ry="3.5" fill="#4d596b"/><ellipse cx="-11.2" cy="-5.9" rx="3.2" ry="3.5" fill="#4d596b"/><ellipse cx="11.2" cy="-5.9" rx="3.2" ry="3.5" fill="#4d596b"/><ellipse cx="-11.2" cy="5.9" rx="3.2" ry="3.5" fill="#4d596b"/><ellipse cx="11.2" cy="5.9" rx="3.2" ry="3.5" fill="#4d596b"/><ellipse cx="-11.2" cy="17.7" rx="3.2" ry="3.5" fill="#4d596b"/><ellipse cx="11.2" cy="17.7" rx="3.2" ry="3.5" fill="#4d596b"/><rect x="-10.4" y="-25.15" width="20.8" height="50.3" fill="#eef1f6"/><rect x="-9.5" y="-24.25" width="19" height="48.5" fill="#5a677b"/><rect x="-0.85" y="-23.25" width="1.7" height="46.5" fill="#dfe8f1"/><rect x="-8" y="-12.88" width="16" height="1.5" fill="#dfe8f1"/><rect x="-8" y="-0.75" width="16" height="1.5" fill="#dfe8f1"/><rect x="-8" y="11.38" width="16" height="1.5" fill="#dfe8f1"/></g>
<g transform="translate(613.45 796.5) rotate(0)"><ellipse cx="-11.7" cy="-11" rx="3.2" ry="3.5" fill="#4d596b"/><ellipse cx="11.7" cy="-11" rx="3.2" ry="3.5" fill="#4d596b"/><ellipse cx="-11.7" cy="0" rx="3.2" ry="3.5" fill="#4d596b"/><ellipse cx="11.7" cy="0" rx="3.2" ry="3.5" fill="#4d596b"/><ellipse cx="-11.7" cy="11" rx="3.2" ry="3.5" fill="#4d596b"/><ellipse cx="11.7" cy="11" rx="3.2" ry="3.5" fill="#4d596b"/><rect x="-10.9" y="-20.4" width="21.8" height="40.8" fill="#eef1f6"/><rect x="-10" y="-19.5" width="20" height="39" fill="#5a677b"/><rect x="-0.85" y="-18.5" width="1.7" height="37" fill="#dfe8f1"/><rect x="-8.5" y="-7.25" width="17" height="1.5" fill="#dfe8f1"/><rect x="-8.5" y="5.75" width="17" height="1.5" fill="#dfe8f1"/></g>
<g transform="translate(663 796.5) rotate(0)"><ellipse cx="-11.7" cy="-11" rx="3.2" ry="3.5" fill="#4d596b"/><ellipse cx="11.7" cy="-11" rx="3.2" ry="3.5" fill="#4d596b"/><ellipse cx="-11.7" cy="0" rx="3.2" ry="3.5" fill="#4d596b"/><ellipse cx="11.7" cy="0" rx="3.2" ry="3.5" fill="#4d596b"/><ellipse cx="-11.7" cy="11" rx="3.2" ry="3.5" fill="#4d596b"/><ellipse cx="11.7" cy="11" rx="3.2" ry="3.5" fill="#4d596b"/><rect x="-10.9" y="-20.4" width="21.8" height="40.8" fill="#eef1f6"/><rect x="-10" y="-19.5" width="20" height="39" fill="#5a677b"/><rect x="-0.85" y="-18.5" width="1.7" height="37" fill="#dfe8f1"/><rect x="-8.5" y="-7.25" width="17" height="1.5" fill="#dfe8f1"/><rect x="-8.5" y="5.75" width="17" height="1.5" fill="#dfe8f1"/></g>
<g transform="translate(717.2 797.6) rotate(0)"><ellipse cx="-11.2" cy="-17.7" rx="3.2" ry="3.5" fill="#4d596b"/><ellipse cx="11.2" cy="-17.7" rx="3.2" ry="3.5" fill="#4d596b"/><ellipse cx="-11.2" cy="-5.9" rx="3.2" ry="3.5" fill="#4d596b"/><ellipse cx="11.2" cy="-5.9" rx="3.2" ry="3.5" fill="#4d596b"/><ellipse cx="-11.2" cy="5.9" rx="3.2" ry="3.5" fill="#4d596b"/><ellipse cx="11.2" cy="5.9" rx="3.2" ry="3.5" fill="#4d596b"/><ellipse cx="-11.2" cy="17.7" rx="3.2" ry="3.5" fill="#4d596b"/><ellipse cx="11.2" cy="17.7" rx="3.2" ry="3.5" fill="#4d596b"/><rect x="-10.4" y="-25.15" width="20.8" height="50.3" fill="#eef1f6"/><rect x="-9.5" y="-24.25" width="19" height="48.5" fill="#5a677b"/><rect x="-0.85" y="-23.25" width="1.7" height="46.5" fill="#dfe8f1"/><rect x="-8" y="-12.88" width="16" height="1.5" fill="#dfe8f1"/><rect x="-8" y="-0.75" width="16" height="1.5" fill="#dfe8f1"/><rect x="-8" y="11.38" width="16" height="1.5" fill="#dfe8f1"/></g>
<g transform="translate(764.2 796.5) rotate(0)"><ellipse cx="-11.7" cy="-11" rx="3.2" ry="3.5" fill="#4d596b"/><ellipse cx="11.7" cy="-11" rx="3.2" ry="3.5" fill="#4d596b"/><ellipse cx="-11.7" cy="0" rx="3.2" ry="3.5" fill="#4d596b"/><ellipse cx="11.7" cy="0" rx="3.2" ry="3.5" fill="#4d596b"/><ellipse cx="-11.7" cy="11" rx="3.2" ry="3.5" fill="#4d596b"/><ellipse cx="11.7" cy="11" rx="3.2" ry="3.5" fill="#4d596b"/><rect x="-10.9" y="-20.4" width="21.8" height="40.8" fill="#eef1f6"/><rect x="-10" y="-19.5" width="20" height="39" fill="#5a677b"/><rect x="-0.85" y="-18.5" width="1.7" height="37" fill="#dfe8f1"/><rect x="-8.5" y="-7.25" width="17" height="1.5" fill="#dfe8f1"/><rect x="-8.5" y="5.75" width="17" height="1.5" fill="#dfe8f1"/></g>
<g transform="translate(812 796.5) rotate(0)"><ellipse cx="-11.7" cy="-11" rx="3.2" ry="3.5" fill="#4d596b"/><ellipse cx="11.7" cy="-11" rx="3.2" ry="3.5" fill="#4d596b"/><ellipse cx="-11.7" cy="0" rx="3.2" ry="3.5" fill="#4d596b"/><ellipse cx="11.7" cy="0" rx="3.2" ry="3.5" fill="#4d596b"/><ellipse cx="-11.7" cy="11" rx="3.2" ry="3.5" fill="#4d596b"/><ellipse cx="11.7" cy="11" rx="3.2" ry="3.5" fill="#4d596b"/><rect x="-10.9" y="-20.4" width="21.8" height="40.8" fill="#eef1f6"/><rect x="-10" y="-19.5" width="20" height="39" fill="#5a677b"/><rect x="-0.85" y="-18.5" width="1.7" height="37" fill="#dfe8f1"/><rect x="-8.5" y="-7.25" width="17" height="1.5" fill="#dfe8f1"/><rect x="-8.5" y="5.75" width="17" height="1.5" fill="#dfe8f1"/></g>
<g transform="translate(857 797.6) rotate(0)"><ellipse cx="-11.2" cy="-17.7" rx="3.2" ry="3.5" fill="#4d596b"/><ellipse cx="11.2" cy="-17.7" rx="3.2" ry="3.5" fill="#4d596b"/><ellipse cx="-11.2" cy="-5.9" rx="3.2" ry="3.5" fill="#4d596b"/><ellipse cx="11.2" cy="-5.9" rx="3.2" ry="3.5" fill="#4d596b"/><ellipse cx="-11.2" cy="5.9" rx="3.2" ry="3.5" fill="#4d596b"/><ellipse cx="11.2" cy="5.9" rx="3.2" ry="3.5" fill="#4d596b"/><ellipse cx="-11.2" cy="17.7" rx="3.2" ry="3.5" fill="#4d596b"/><ellipse cx="11.2" cy="17.7" rx="3.2" ry="3.5" fill="#4d596b"/><rect x="-10.4" y="-25.15" width="20.8" height="50.3" fill="#eef1f6"/><rect x="-9.5" y="-24.25" width="19" height="48.5" fill="#5a677b"/><rect x="-0.85" y="-23.25" width="1.7" height="46.5" fill="#dfe8f1"/><rect x="-8" y="-12.88" width="16" height="1.5" fill="#dfe8f1"/><rect x="-8" y="-0.75" width="16" height="1.5" fill="#dfe8f1"/><rect x="-8" y="11.38" width="16" height="1.5" fill="#dfe8f1"/></g>
<g transform="translate(904.9 796.5) rotate(0)"><ellipse cx="-11.7" cy="-11" rx="3.2" ry="3.5" fill="#4d596b"/><ellipse cx="11.7" cy="-11" rx="3.2" ry="3.5" fill="#4d596b"/><ellipse cx="-11.7" cy="0" rx="3.2" ry="3.5" fill="#4d596b"/><ellipse cx="11.7" cy="0" rx="3.2" ry="3.5" fill="#4d596b"/><ellipse cx="-11.7" cy="11" rx="3.2" ry="3.5" fill="#4d596b"/><ellipse cx="11.7" cy="11" rx="3.2" ry="3.5" fill="#4d596b"/><rect x="-10.9" y="-20.4" width="21.8" height="40.8" fill="#eef1f6"/><rect x="-10" y="-19.5" width="20" height="39" fill="#5a677b"/><rect x="-0.85" y="-18.5" width="1.7" height="37" fill="#dfe8f1"/><rect x="-8.5" y="-7.25" width="17" height="1.5" fill="#dfe8f1"/><rect x="-8.5" y="5.75" width="17" height="1.5" fill="#dfe8f1"/></g>
<g transform="translate(952.6 796.5) rotate(0)"><ellipse cx="-11.7" cy="-11" rx="3.2" ry="3.5" fill="#4d596b"/><ellipse cx="11.7" cy="-11" rx="3.2" ry="3.5" fill="#4d596b"/><ellipse cx="-11.7" cy="0" rx="3.2" ry="3.5" fill="#4d596b"/><ellipse cx="11.7" cy="0" rx="3.2" ry="3.5" fill="#4d596b"/><ellipse cx="-11.7" cy="11" rx="3.2" ry="3.5" fill="#4d596b"/><ellipse cx="11.7" cy="11" rx="3.2" ry="3.5" fill="#4d596b"/><rect x="-10.9" y="-20.4" width="21.8" height="40.8" fill="#eef1f6"/><rect x="-10" y="-19.5" width="20" height="39" fill="#5a677b"/><rect x="-0.85" y="-18.5" width="1.7" height="37" fill="#dfe8f1"/><rect x="-8.5" y="-7.25" width="17" height="1.5" fill="#dfe8f1"/><rect x="-8.5" y="5.75" width="17" height="1.5" fill="#dfe8f1"/></g>
<g transform="translate(1000.3 796.5) rotate(0)"><ellipse cx="-11.7" cy="-11" rx="3.2" ry="3.5" fill="#4d596b"/><ellipse cx="11.7" cy="-11" rx="3.2" ry="3.5" fill="#4d596b"/><ellipse cx="-11.7" cy="0" rx="3.2" ry="3.5" fill="#4d596b"/><ellipse cx="11.7" cy="0" rx="3.2" ry="3.5" fill="#4d596b"/><ellipse cx="-11.7" cy="11" rx="3.2" ry="3.5" fill="#4d596b"/><ellipse cx="11.7" cy="11" rx="3.2" ry="3.5" fill="#4d596b"/><rect x="-10.9" y="-20.4" width="21.8" height="40.8" fill="#eef1f6"/><rect x="-10" y="-19.5" width="20" height="39" fill="#5a677b"/><rect x="-0.85" y="-18.5" width="1.7" height="37" fill="#dfe8f1"/><rect x="-8.5" y="-7.25" width="17" height="1.5" fill="#dfe8f1"/><rect x="-8.5" y="5.75" width="17" height="1.5" fill="#dfe8f1"/></g>
<g transform="translate(1045.9 791) rotate(-17)"><ellipse cx="-9.95" cy="-10.5" rx="3.2" ry="3.5" fill="#4d596b"/><ellipse cx="9.95" cy="-10.5" rx="3.2" ry="3.5" fill="#4d596b"/><ellipse cx="-9.95" cy="0" rx="3.2" ry="3.5" fill="#4d596b"/><ellipse cx="9.95" cy="0" rx="3.2" ry="3.5" fill="#4d596b"/><ellipse cx="-9.95" cy="10.5" rx="3.2" ry="3.5" fill="#4d596b"/><ellipse cx="9.95" cy="10.5" rx="3.2" ry="3.5" fill="#4d596b"/><rect x="-9.15" y="-18.4" width="18.3" height="36.8" fill="#eef1f6"/><rect x="-8.25" y="-17.5" width="16.5" height="35" fill="#5a677b"/><rect x="-0.85" y="-16.5" width="1.7" height="33" fill="#dfe8f1"/><rect x="-6.75" y="-6.58" width="13.5" height="1.5" fill="#dfe8f1"/><rect x="-6.75" y="5.08" width="13.5" height="1.5" fill="#dfe8f1"/></g>
<g transform="translate(470.3 791.3) rotate(17)"><ellipse cx="-9.95" cy="-10.5" rx="3.2" ry="3.5" fill="#4d596b"/><ellipse cx="9.95" cy="-10.5" rx="3.2" ry="3.5" fill="#4d596b"/><ellipse cx="-9.95" cy="0" rx="3.2" ry="3.5" fill="#4d596b"/><ellipse cx="9.95" cy="0" rx="3.2" ry="3.5" fill="#4d596b"/><ellipse cx="-9.95" cy="10.5" rx="3.2" ry="3.5" fill="#4d596b"/><ellipse cx="9.95" cy="10.5" rx="3.2" ry="3.5" fill="#4d596b"/><rect x="-9.15" y="-18.4" width="18.3" height="36.8" fill="#eef1f6"/><rect x="-8.25" y="-17.5" width="16.5" height="35" fill="#5a677b"/><rect x="-0.85" y="-16.5" width="1.7" height="33" fill="#dfe8f1"/><rect x="-6.75" y="-6.58" width="13.5" height="1.5" fill="#dfe8f1"/><rect x="-6.75" y="5.08" width="13.5" height="1.5" fill="#dfe8f1"/></g>
<g transform="translate(433.7 766.7) rotate(56)"><ellipse cx="-9.2" cy="-18.9" rx="3.2" ry="3.5" fill="#4d596b"/><ellipse cx="9.2" cy="-18.9" rx="3.2" ry="3.5" fill="#4d596b"/><ellipse cx="-9.2" cy="-6.3" rx="3.2" ry="3.5" fill="#4d596b"/><ellipse cx="9.2" cy="-6.3" rx="3.2" ry="3.5" fill="#4d596b"/><ellipse cx="-9.2" cy="6.3" rx="3.2" ry="3.5" fill="#4d596b"/><ellipse cx="9.2" cy="6.3" rx="3.2" ry="3.5" fill="#4d596b"/><ellipse cx="-9.2" cy="18.9" rx="3.2" ry="3.5" fill="#4d596b"/><ellipse cx="9.2" cy="18.9" rx="3.2" ry="3.5" fill="#4d596b"/><rect x="-8.4" y="-26.4" width="16.8" height="52.8" fill="#eef1f6"/><rect x="-7.5" y="-25.5" width="15" height="51" fill="#5a677b"/><rect x="-0.85" y="-24.5" width="1.7" height="49" fill="#dfe8f1"/><rect x="-6" y="-13.5" width="12" height="1.5" fill="#dfe8f1"/><rect x="-6" y="-0.75" width="12" height="1.5" fill="#dfe8f1"/><rect x="-6" y="12" width="12" height="1.5" fill="#dfe8f1"/></g>
<g>
<ellipse cx="481.5" cy="472" rx="3.4" ry="3.3" fill="#4d596b"/>
<ellipse cx="481.5" cy="483.5" rx="3.4" ry="3.3" fill="#4d596b"/>
<ellipse cx="481.5" cy="495" rx="3.4" ry="3.3" fill="#4d596b"/>
<rect x="481.25" y="463.75" width="9" height="39.5" fill="#5a677b"/>
<rect x="482.5" y="476.5" width="6" height="1" fill="#dfe8f1"/><rect x="482.5" y="489.5" width="6" height="1" fill="#dfe8f1"/>
</g>
<circle cx="512.5" cy="482.5" r="3.2" fill="#4d596b"/><circle cx="524.5" cy="482.5" r="3.2" fill="#4d596b"/><circle cx="518.5" cy="493" r="2.8" fill="#4d596b"/>
<rect x="504" y="483" width="30.5" height="9.5" fill="#5a677b"/>
<circle cx="541" cy="577.5" r="3.2" fill="#4d596b"/>
<circle cx="541" cy="610.5" r="3.2" fill="#4d596b"/>
<circle cx="552.5" cy="577.5" r="3.2" fill="#4d596b"/>
<circle cx="552.5" cy="610.5" r="3.2" fill="#4d596b"/>
<circle cx="564" cy="577.5" r="3.2" fill="#4d596b"/>
<circle cx="564" cy="610.5" r="3.2" fill="#4d596b"/>
<rect x="535" y="577.5" width="35.5" height="9" fill="#5a677b"/>
<rect x="535" y="596.5" width="35.5" height="13.5" fill="#5a677b"/>
<rect x="546.3" y="577.5" width="1" height="9" fill="#dfe8f1"/><rect x="546.3" y="596.5" width="1" height="13.5" fill="#dfe8f1"/>
<rect x="558" y="577.5" width="1" height="9" fill="#dfe8f1"/><rect x="558" y="596.5" width="1" height="13.5" fill="#dfe8f1"/>
<rect x="537" y="602.7" width="31.5" height="1" fill="#dfe8f1"/>
<circle cx="331" cy="372" r="3" fill="#4d596b"/>
<circle cx="331" cy="380.8" r="3" fill="#4d596b"/>
<circle cx="331" cy="389.6" r="3" fill="#4d596b"/>
<circle cx="331" cy="398.4" r="3" fill="#4d596b"/>
<circle cx="331" cy="407.2" r="3" fill="#4d596b"/>
<circle cx="331" cy="416" r="3" fill="#4d596b"/>
<rect x="331.6" y="367.8" width="7" height="50.5" fill="#eef1f6"/>
<rect x="332.4" y="368.3" width="6.2" height="49.8" fill="#5a677b"/>
<ellipse cx="938.8" cy="714.5" rx="2.5" ry="2.9" fill="#4d596b"/>
<ellipse cx="938.8" cy="723.3" rx="2.5" ry="2.9" fill="#4d596b"/>
<ellipse cx="938.8" cy="732.1" rx="2.5" ry="2.9" fill="#4d596b"/>
<ellipse cx="938.8" cy="740.9" rx="2.5" ry="2.9" fill="#4d596b"/>
<ellipse cx="938.8" cy="749.7" rx="2.5" ry="2.9" fill="#4d596b"/>
<ellipse cx="938.8" cy="758.5" rx="2.5" ry="2.9" fill="#4d596b"/>
<rect x="931" y="709.7" width="6.9" height="51" fill="#eef1f6"/>
<rect x="931" y="710.2" width="6" height="50.2" fill="#5a677b"/>
<g transform="translate(296.1 382.1) rotate(0)"><circle r="5.3" fill="#eef1f6"/><circle r="4.5" fill="#5a677b"/><path d="M -2.7 -6.6 A 7.2 7.2 0 0 1 2.7 -6.6" stroke="#4d596b" stroke-width="3.4" stroke-linecap="round" fill="none" transform="rotate(0)"/><path d="M -2.7 -6.6 A 7.2 7.2 0 0 1 2.7 -6.6" stroke="#4d596b" stroke-width="3.4" stroke-linecap="round" fill="none" transform="rotate(90)"/><path d="M -2.7 -6.6 A 7.2 7.2 0 0 1 2.7 -6.6" stroke="#4d596b" stroke-width="3.4" stroke-linecap="round" fill="none" transform="rotate(200)"/></g>
<g transform="translate(295.8 404.7) rotate(-30)"><circle r="5.3" fill="#eef1f6"/><circle r="4.5" fill="#5a677b"/><path d="M -2.7 -6.6 A 7.2 7.2 0 0 1 2.7 -6.6" stroke="#4d596b" stroke-width="3.4" stroke-linecap="round" fill="none" transform="rotate(0)"/><path d="M -2.7 -6.6 A 7.2 7.2 0 0 1 2.7 -6.6" stroke="#4d596b" stroke-width="3.4" stroke-linecap="round" fill="none" transform="rotate(120)"/><path d="M -2.7 -6.6 A 7.2 7.2 0 0 1 2.7 -6.6" stroke="#4d596b" stroke-width="3.4" stroke-linecap="round" fill="none" transform="rotate(200)"/></g>
<g transform="translate(302.8 434) rotate(15)"><circle r="5.3" fill="#eef1f6"/><circle r="4.5" fill="#5a677b"/><path d="M -2.7 -6.6 A 7.2 7.2 0 0 1 2.7 -6.6" stroke="#4d596b" stroke-width="3.4" stroke-linecap="round" fill="none" transform="rotate(0)"/><path d="M -2.7 -6.6 A 7.2 7.2 0 0 1 2.7 -6.6" stroke="#4d596b" stroke-width="3.4" stroke-linecap="round" fill="none" transform="rotate(90)"/><path d="M -2.7 -6.6 A 7.2 7.2 0 0 1 2.7 -6.6" stroke="#4d596b" stroke-width="3.4" stroke-linecap="round" fill="none" transform="rotate(180)"/><path d="M -2.7 -6.6 A 7.2 7.2 0 0 1 2.7 -6.6" stroke="#4d596b" stroke-width="3.4" stroke-linecap="round" fill="none" transform="rotate(270)"/></g>
<g transform="translate(965.6 694.8) rotate(15)"><circle r="5.3" fill="#eef1f6"/><circle r="4.5" fill="#5a677b"/><path d="M -2.7 -6.6 A 7.2 7.2 0 0 1 2.7 -6.6" stroke="#4d596b" stroke-width="3.4" stroke-linecap="round" fill="none" transform="rotate(0)"/><path d="M -2.7 -6.6 A 7.2 7.2 0 0 1 2.7 -6.6" stroke="#4d596b" stroke-width="3.4" stroke-linecap="round" fill="none" transform="rotate(90)"/><path d="M -2.7 -6.6 A 7.2 7.2 0 0 1 2.7 -6.6" stroke="#4d596b" stroke-width="3.4" stroke-linecap="round" fill="none" transform="rotate(180)"/><path d="M -2.7 -6.6 A 7.2 7.2 0 0 1 2.7 -6.6" stroke="#4d596b" stroke-width="3.4" stroke-linecap="round" fill="none" transform="rotate(270)"/></g>
<g transform="translate(973.4 723.1) rotate(30)"><circle r="5.3" fill="#eef1f6"/><circle r="4.5" fill="#5a677b"/><path d="M -2.7 -6.6 A 7.2 7.2 0 0 1 2.7 -6.6" stroke="#4d596b" stroke-width="3.4" stroke-linecap="round" fill="none" transform="rotate(0)"/><path d="M -2.7 -6.6 A 7.2 7.2 0 0 1 2.7 -6.6" stroke="#4d596b" stroke-width="3.4" stroke-linecap="round" fill="none" transform="rotate(90)"/><path d="M -2.7 -6.6 A 7.2 7.2 0 0 1 2.7 -6.6" stroke="#4d596b" stroke-width="3.4" stroke-linecap="round" fill="none" transform="rotate(180)"/><path d="M -2.7 -6.6 A 7.2 7.2 0 0 1 2.7 -6.6" stroke="#4d596b" stroke-width="3.4" stroke-linecap="round" fill="none" transform="rotate(270)"/></g>
<g transform="translate(970 746.3) rotate(0)"><circle r="5.3" fill="#eef1f6"/><circle r="4.5" fill="#5a677b"/><path d="M -2.7 -6.6 A 7.2 7.2 0 0 1 2.7 -6.6" stroke="#4d596b" stroke-width="3.4" stroke-linecap="round" fill="none" transform="rotate(0)"/><path d="M -2.7 -6.6 A 7.2 7.2 0 0 1 2.7 -6.6" stroke="#4d596b" stroke-width="3.4" stroke-linecap="round" fill="none" transform="rotate(90)"/><path d="M -2.7 -6.6 A 7.2 7.2 0 0 1 2.7 -6.6" stroke="#4d596b" stroke-width="3.4" stroke-linecap="round" fill="none" transform="rotate(180)"/><path d="M -2.7 -6.6 A 7.2 7.2 0 0 1 2.7 -6.6" stroke="#4d596b" stroke-width="3.4" stroke-linecap="round" fill="none" transform="rotate(270)"/></g>
<g transform="translate(857.9 423.7) rotate(9)"><ellipse cx="-5" cy="-10.8" rx="3.1" ry="2.8" fill="#4d596b"/><ellipse cx="-5" cy="10.8" rx="3.1" ry="2.8" fill="#4d596b"/><ellipse cx="5" cy="-10.8" rx="3.1" ry="2.8" fill="#4d596b"/><ellipse cx="5" cy="10.8" rx="3.1" ry="2.8" fill="#4d596b"/><ellipse cx="-10.8" cy="-5" rx="2.8" ry="3.1" fill="#4d596b"/><ellipse cx="10.8" cy="-5" rx="2.8" ry="3.1" fill="#4d596b"/><ellipse cx="-10.8" cy="5" rx="2.8" ry="3.1" fill="#4d596b"/><ellipse cx="10.8" cy="5" rx="2.8" ry="3.1" fill="#4d596b"/><rect x="-9.6" y="-9.6" width="19.2" height="19.2" fill="#eef1f6"/><rect x="-8.7" y="-8.7" width="17.4" height="17.4" fill="#5a677b"/></g>
<g transform="translate(410.9 705.4) rotate(10)"><ellipse cx="-5" cy="-10.8" rx="3.1" ry="2.8" fill="#4d596b"/><ellipse cx="-5" cy="10.8" rx="3.1" ry="2.8" fill="#4d596b"/><ellipse cx="5" cy="-10.8" rx="3.1" ry="2.8" fill="#4d596b"/><ellipse cx="5" cy="10.8" rx="3.1" ry="2.8" fill="#4d596b"/><ellipse cx="-10.8" cy="-5" rx="2.8" ry="3.1" fill="#4d596b"/><ellipse cx="10.8" cy="-5" rx="2.8" ry="3.1" fill="#4d596b"/><ellipse cx="-10.8" cy="5" rx="2.8" ry="3.1" fill="#4d596b"/><ellipse cx="10.8" cy="5" rx="2.8" ry="3.1" fill="#4d596b"/><rect x="-9.6" y="-9.6" width="19.2" height="19.2" fill="#eef1f6"/><rect x="-8.7" y="-8.7" width="17.4" height="17.4" fill="#5a677b"/></g>
<g><circle cx="849.5" cy="387.5" r="3.1" fill="#4d596b"/><circle cx="849.5" cy="398.4" r="3.1" fill="#4d596b"/><circle cx="865.3" cy="392.6" r="3.1" fill="#4d596b"/><rect x="852.3" y="379.3" width="22" height="5.8" fill="#eef1f6"/><rect x="852.3" y="379.3" width="9.8" height="25.9" fill="#eef1f6"/><rect x="853.2" y="380.2" width="20.1" height="4" fill="#5a677b"/><rect x="853.2" y="380.2" width="8" height="24.1" fill="#5a677b"/></g>
<g><circle cx="419.3" cy="729.5" r="3.1" fill="#4d596b"/><circle cx="419.3" cy="740.4" r="3.1" fill="#4d596b"/><circle cx="403.5" cy="735.3" r="3.1" fill="#4d596b"/><rect x="406.7" y="723.1" width="10.5" height="26.2" fill="#eef1f6"/><rect x="394.7" y="743.5" width="22.5" height="5.8" fill="#eef1f6"/><rect x="407.6" y="724" width="8.7" height="24.4" fill="#5a677b"/><rect x="395.6" y="744.4" width="20.7" height="4" fill="#5a677b"/></g>
<text x="232" y="410" font-size="12" font-weight="bold" fill="#ffffff" stroke="#ffffff" stroke-width="0.35" text-anchor="middle" textLength="40" lengthAdjust="spacingAndGlyphs">SDR 20P</text>
<text x="771.2" y="396.7" font-size="12" font-weight="bold" fill="#ffffff" stroke="#ffffff" stroke-width="0.35" text-anchor="middle" textLength="42" lengthAdjust="spacingAndGlyphs">SDR 12P</text>
<text x="771.2" y="427.1" font-size="12" font-weight="bold" fill="#ffffff" stroke="#ffffff" stroke-width="0.35" text-anchor="middle" textLength="42" lengthAdjust="spacingAndGlyphs">SDR 12P</text>
<text x="699" y="541" font-size="12" font-weight="bold" fill="#ffffff" stroke="#ffffff" stroke-width="0.35" text-anchor="middle" textLength="41.3" lengthAdjust="spacingAndGlyphs">SDR 22P</text>
<text x="699" y="594.75" font-size="12" font-weight="bold" fill="#ffffff" stroke="#ffffff" stroke-width="0.35" text-anchor="middle" textLength="41.3" lengthAdjust="spacingAndGlyphs">SDR 22P</text>
<text x="496.5" y="711.6" font-size="12" font-weight="bold" fill="#ffffff" stroke="#ffffff" stroke-width="0.35" text-anchor="middle" textLength="42" lengthAdjust="spacingAndGlyphs">SDR 12P</text>
<text x="496.5" y="737.9" font-size="12" font-weight="bold" fill="#ffffff" stroke="#ffffff" stroke-width="0.35" text-anchor="middle" textLength="42" lengthAdjust="spacingAndGlyphs">SDR 12P</text>
<text x="548.3" y="711.6" font-size="12" font-weight="bold" fill="#ffffff" stroke="#ffffff" stroke-width="0.35" text-anchor="middle" textLength="35.4" lengthAdjust="spacingAndGlyphs">SDR 8P</text>
<text x="548.3" y="737.9" font-size="12" font-weight="bold" fill="#ffffff" stroke="#ffffff" stroke-width="0.35" text-anchor="middle" textLength="35.4" lengthAdjust="spacingAndGlyphs">SDR 8P</text>
<text x="1031.3" y="727" font-size="12" font-weight="bold" fill="#ffffff" stroke="#ffffff" stroke-width="0.35" text-anchor="middle" textLength="41" lengthAdjust="spacingAndGlyphs">SDR 20P</text>
<text x="565.5" y="516.6" font-size="12" font-weight="bold" fill="#30363c" stroke="#30363c" stroke-width="0.3" text-anchor="middle" textLength="40.3" lengthAdjust="spacingAndGlyphs">ACCUEIL</text>
<text x="117" y="336.9" font-size="11.5" font-weight="bold" fill="#3b4552" stroke="#3b4552" stroke-width="0.2" text-anchor="start" textLength="34.3" lengthAdjust="spacingAndGlyphs">SDR 8P</text>
<text x="89.5" y="372.8" font-size="11.5" font-weight="bold" fill="#3b4552" stroke="#3b4552" stroke-width="0.2" text-anchor="start" textLength="35.2" lengthAdjust="spacingAndGlyphs">SDR 8P</text>
<text x="1146.5" y="752" font-size="11.5" font-weight="bold" fill="#3b4552" stroke="#3b4552" stroke-width="0.2" text-anchor="start" textLength="34.5" lengthAdjust="spacingAndGlyphs">SDR 8P</text>
<text x="1122.6" y="790.5" font-size="11.5" font-weight="bold" fill="#3b4552" stroke="#3b4552" stroke-width="0.2" text-anchor="start" textLength="34.5" lengthAdjust="spacingAndGlyphs">SDR 8P</text>
<path d="M 114.5 339.4 L 157 339.4 M 88.4 375 L 135.5 375 M 1133 753.7 L 1183 753.7 M 1109 792.2 L 1157 792.2" stroke="#555c66" stroke-width="1.5"/>
<text transform="translate(292 215) scale(0.64 1)" x="0" y="0" font-size="34.16" font-weight="normal" fill="#2a2c32" stroke="#2a2c32" stroke-width="0.35" textLength="681.25" lengthAdjust="spacing">CONFIGURATION DOUBLE PLATEAU</text>
<text transform="translate(477.5 288) scale(0.62 1)" x="0" y="0" font-size="23.98" font-weight="bold" fill="#231f22" stroke="#231f22" stroke-width="0.2" textLength="105.65" lengthAdjust="spacing">TOUR A</text>
<text transform="translate(730 854.6) scale(0.62 1)" x="0" y="0" font-size="23.98" font-weight="bold" fill="#231f22" stroke="#231f22" stroke-width="0.2" textLength="106.45" lengthAdjust="spacing">TOUR B</text>
<text transform="translate(904.5 325.2) scale(0.65 1)" x="0" y="0" font-size="30.96" font-weight="normal" fill="#2a2c32" stroke="#2a2c32" stroke-width="0.3" textLength="363.08" lengthAdjust="spacing">EFFICACITÉ MOYENNE</text>
<text transform="translate(904.5 358.3) scale(0.65 1)" x="0" y="0" font-size="30.96" font-weight="normal" fill="#2a2c32" stroke="#2a2c32" stroke-width="0.3" textLength="353.85" lengthAdjust="spacing">PAR SIMPLE PLATEAU</text>
<text transform="translate(1141.6 358.3) scale(0.65 1)" x="0" y="0" font-size="30.96" font-weight="normal" fill="#6a8cc1" stroke="#6a8cc1" stroke-width="0.3" textLength="117.69" lengthAdjust="spacing">1/10M²</text>
<text transform="translate(30.4 648.25) scale(0.7 1)" x="0" y="0" font-size="39.24" font-weight="normal" fill="#6887b8" stroke="#6887b8" stroke-width="0.15" textLength="199.14" lengthAdjust="spacing">BUREAUX</text>
<text transform="translate(180.4 648.25) scale(0.66 1)" x="0" y="0" font-size="39.24" font-weight="bold" fill="#5d81b8" textLength="286.36" lengthAdjust="spacing">OPEN SPACE</text>
<text transform="translate(30.5 685.2) scale(0.67 1)" x="0" y="0" font-size="23.69" font-weight="bold" fill="#2a2c32" textLength="405.22" lengthAdjust="spacing">SUR CHAQUE SIMPLE PLATEAU</text>
<text x="30.8" y="711.9" font-size="23.4" font-weight="normal" fill="#8ba2bd" textLength="34.6" lengthAdjust="spacingAndGlyphs">190</text>
<text x="69.6" y="711.9" font-size="23.4" font-weight="normal" fill="#2a2c32" textLength="173.4" lengthAdjust="spacingAndGlyphs">POSTES DE TRAVAIL</text>
<text x="30.4" y="738.9" font-size="23.4" font-weight="normal" fill="#8ba2bd" textLength="41.2" lengthAdjust="spacingAndGlyphs">90%</text>
<text x="78" y="738.9" font-size="23.4" font-weight="normal" fill="#2a2c32" textLength="180" lengthAdjust="spacingAndGlyphs">BUREAUX PARTAGÉS</text>
<text x="30.4" y="765.8" font-size="23.4" font-weight="normal" fill="#8ba2bd" textLength="41.2" lengthAdjust="spacingAndGlyphs">10%</text>
<text x="78" y="765.8" font-size="23.4" font-weight="normal" fill="#2a2c32" textLength="202.4" lengthAdjust="spacingAndGlyphs">BUREAUX CLOISONNÉS</text>
<text x="30" y="793.5" font-size="23.4" font-weight="normal" fill="#2a2c32" textLength="190.5" lengthAdjust="spacingAndGlyphs">SALLES DE RÉUNION :</text>
<text x="226" y="793.5" font-size="23.4" font-weight="normal" fill="#8ba2bd" textLength="13.2" lengthAdjust="spacingAndGlyphs">3</text>
<text x="30" y="820.5" font-size="23.4" font-weight="normal" fill="#2a2c32" textLength="302.4" lengthAdjust="spacingAndGlyphs">ESPACES DÉTENTE/CONVIVIALITÉ :</text>
<text x="335.6" y="820.5" font-size="23.4" font-weight="normal" fill="#8ba2bd" textLength="14.2" lengthAdjust="spacingAndGlyphs">2</text>
</svg></body></html>
